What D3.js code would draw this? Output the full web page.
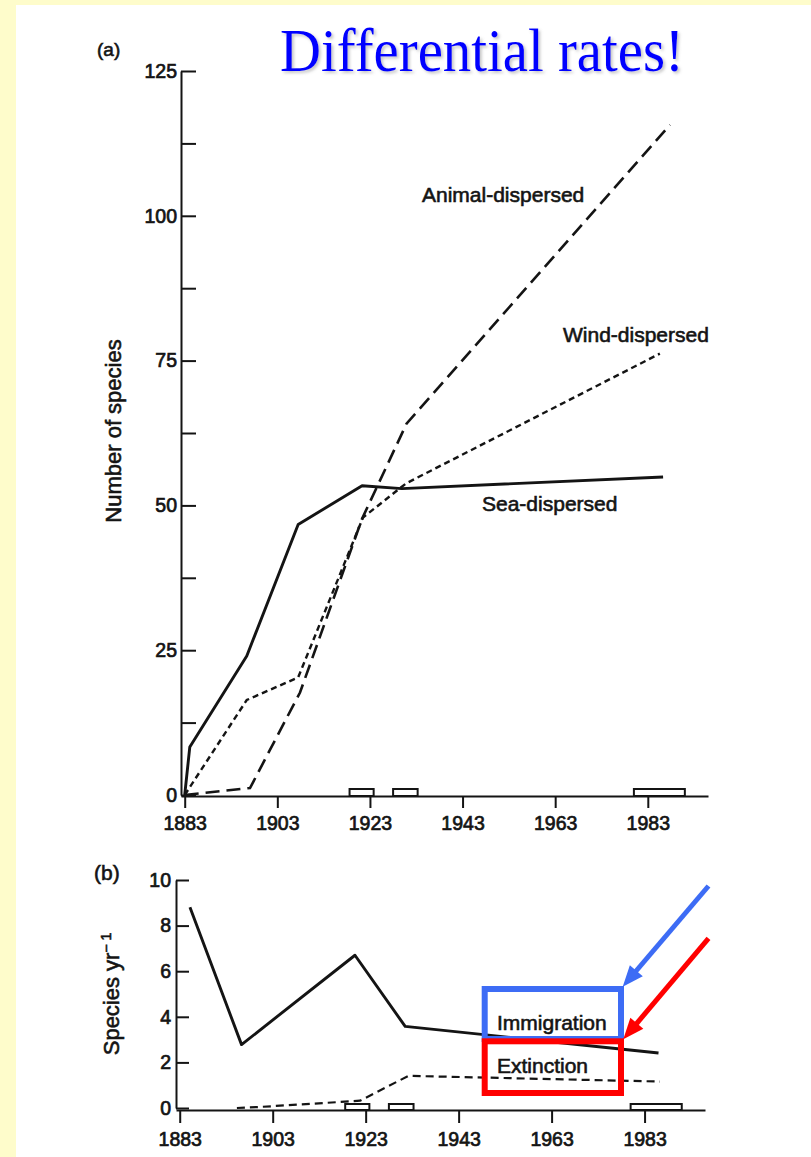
<!DOCTYPE html>
<html><head><meta charset="utf-8">
<script src="https://cdn.jsdelivr.net/npm/d3@7"></script>
<style>body{margin:0;background:#fefccb}svg{display:block}</style>
</head><body><svg id="c" width="811" height="1157"></svg>
<script>
// ---- data ----
const xTicks = [1883, 1903, 1923, 1943, 1963, 1983];
const topYTicks = [0, 25, 50, 75, 100, 125];
const topYMinor = [12.5, 37.5, 62.5, 87.5, 112.5];
const bottomYTicks = [0, 2, 4, 6, 8, 10];

const seaYears = [1883, 1884.1, 1896.4, 1907.5, 1921.3, 1929.9, 1986.3];
const seaValues = [0, 8.3, 24.0, 46.7, 53.4, 52.9, 54.9];
const windYears = [1883, 1896.4, 1907.5, 1921.5, 1930.8, 1985.6];
const windValues = [0, 16.4, 20.3, 47.9, 53.8, 76.2];
const animalYears = [1883, 1897.1, 1907.9, 1921.3, 1930.9, 1987.8];
const animalValues = [0, 1.2, 17.7, 47.7, 64.1, 115.7];

const immYears = [1885.2, 1896.3, 1920.7, 1931.5, 1986.0];
const immValues = [8.8, 2.78, 6.7, 3.58, 2.41];
const extYears = [1895.3, 1900.6, 1921.8, 1932.2, 1986.3];
const extValues = [0, 0.05, 0.32, 1.41, 1.16];

const surveyStart = [1918.6, 1928.0, 1980.0];
const surveyEnd = [1923.8, 1933.3, 1991.0];

// ---- drawing ----
const FONT = "'Liberation Sans', Arial, Helvetica, sans-serif";
const INK = "#141414";
const svg = d3.select("#c");
svg.append("rect").attr("width", 811).attr("height", 1157).attr("fill", "#fefccb");
svg.append("rect").attr("x", 16).attr("y", 5).attr("width", 795).attr("height", 1152).attr("fill", "#ffffff");

const defs = svg.append("defs");
const f = defs.append("filter").attr("id", "sh").attr("x", "-5%").attr("y", "-20%").attr("width", "115%").attr("height", "150%");
f.append("feDropShadow").attr("dx", 2).attr("dy", 2).attr("stdDeviation", 1.5)
  .attr("flood-color", "#808080").attr("flood-opacity", 0.45);

// title
svg.append("text").attr("x", 280).attr("y", 71)
  .attr("textLength", 404).attr("lengthAdjust", "spacingAndGlyphs")
  .style("font-family", "'Liberation Serif','Times New Roman',serif").style("font-size", "62px")
  .attr("fill", "#0000ff").attr("filter", "url(#sh)").text("Differential rates!");

function styleAxis(g, fs) {
  g.select(".domain").attr("stroke", INK).attr("stroke-width", 2);
  g.selectAll(".tick line").attr("stroke", INK).attr("stroke-width", 2);
  g.selectAll(".tick text").attr("fill", INK).attr("stroke", INK).attr("stroke-width", 0.7)
    .style("font-family", FONT).style("font-size", fs + "px");
}
function label(x, y, t, fs, extra) {
  const el = svg.append("text").attr("x", x).attr("y", y).attr("fill", INK)
    .attr("stroke", INK).attr("stroke-width", 0.6)
    .style("font-family", FONT).style("font-size", fs + "px").text(t);
  if (extra) extra(el);
  return el;
}

// ---------- (a) top chart ----------
const xTop = d3.scaleLinear().domain([1882.2, 1996]).range([181, 708]);
const yTop = d3.scaleLinear().domain([0, 125]).range([795, 71]);
const topAxisY = 796;

svg.append("g").attr("transform", `translate(181,0)`)
  .call(d3.axisLeft(yTop).tickValues(topYTicks.concat(topYMinor)).tickSize(-15).tickSizeOuter(0).tickPadding(4)
    .tickFormat(d => topYTicks.includes(d) ? d : ""))
  .call(g => styleAxis(g, 19.5));
svg.append("g").attr("transform", `translate(0,${topAxisY})`)
  .call(d3.axisBottom(xTop).tickValues(xTicks).tickFormat(d3.format("d")).tickSize(12).tickSizeOuter(0).tickPadding(8))
  .call(g => styleAxis(g, 19.5));

svg.append("g").selectAll("rect").data(d3.zip(surveyStart, surveyEnd)).join("rect")
  .attr("x", d => xTop(d[0])).attr("width", d => xTop(d[1]) - xTop(d[0]))
  .attr("y", topAxisY - 7).attr("height", 7)
  .attr("fill", "#fff").attr("stroke", INK).attr("stroke-width", 2);

const lineTop = d3.line().x(d => xTop(d[0])).y(d => yTop(d[1]));
svg.append("path").attr("d", lineTop(d3.zip(seaYears, seaValues)))
  .attr("fill", "none").attr("stroke", INK).attr("stroke-width", 2.9).attr("stroke-linejoin", "round");
svg.append("path").attr("d", lineTop(d3.zip(windYears, windValues)))
  .attr("fill", "none").attr("stroke", INK).attr("stroke-width", 2.4).attr("stroke-dasharray", "6,4");
svg.append("path").attr("d", lineTop(d3.zip(animalYears, animalValues)))
  .attr("fill", "none").attr("stroke", INK).attr("stroke-width", 2.6).attr("stroke-dasharray", "14,7");

label(422, 202, "Animal-dispersed", 21);
label(563, 342, "Wind-dispersed", 21);
label(482, 510.5, "Sea-dispersed", 21);
label(97, 56, "(a)", 19);
label(0, 0, "Number of species", 22, el => el.attr("text-anchor", "middle")
  .attr("transform", "translate(121,431) rotate(-90)"));

// ---------- (b) bottom chart ----------
const xBot = d3.scaleLinear().domain([1882.2, 1996]).range([176, 705]);
const yBot = d3.scaleLinear().domain([0, 10]).range([1108, 880]);
const botAxisY = 1110;

svg.append("g").attr("transform", `translate(176,0)`)
  .call(d3.axisLeft(yBot).tickValues(bottomYTicks).tickSize(-13).tickSizeOuter(0).tickPadding(5))
  .call(g => styleAxis(g, 19.5));
svg.append("g").attr("transform", `translate(0,${botAxisY})`)
  .call(d3.axisBottom(xBot).tickValues(xTicks).tickFormat(d3.format("d")).tickSize(13).tickSizeOuter(0).tickPadding(9))
  .call(g => styleAxis(g, 19.5));

svg.append("g").selectAll("rect").data(d3.zip(surveyStart, surveyEnd)).join("rect")
  .attr("x", d => xBot(d[0])).attr("width", d => xBot(d[1]) - xBot(d[0]))
  .attr("y", botAxisY - 6).attr("height", 6)
  .attr("fill", "#fff").attr("stroke", INK).attr("stroke-width", 2);

const lineBot = d3.line().x(d => xBot(d[0])).y(d => yBot(d[1]));
svg.append("path").attr("d", lineBot(d3.zip(immYears, immValues)))
  .attr("fill", "none").attr("stroke", INK).attr("stroke-width", 2.9).attr("stroke-linejoin", "round");
svg.append("path").attr("d", lineBot(d3.zip(extYears, extValues)))
  .attr("fill", "none").attr("stroke", INK).attr("stroke-width", 2.2).attr("stroke-dasharray", "8,5");

label(94, 880, "(b)", 21);
const sp = label(0, 0, "Species yr", 22, el => el.attr("text-anchor", "middle")
  .attr("transform", "translate(119,994) rotate(-90)"));
sp.append("tspan").attr("dy", -8).style("font-size", "14px").text("\u2212 1");

label(497, 1030, "Immigration", 21);
label(497, 1072.5, "Extinction", 21);

// annotation boxes and arrows
svg.append("rect").attr("x", 484.7).attr("y", 989).attr("width", 136.3).attr("height", 50)
  .attr("fill", "none").attr("stroke", "#3d6cf5").attr("stroke-width", 6);
svg.append("rect").attr("x", 484.7).attr("y", 1041.3).attr("width", 136.3).attr("height", 51.7)
  .attr("fill", "none").attr("stroke", "#ff0000").attr("stroke-width", 6);

function arrow(x1, y1, x2, y2, col) {
  const dx = x2 - x1, dy = y2 - y1, L = Math.hypot(dx, dy);
  const ux = dx / L, uy = dy / L, nx = -uy, ny = ux;
  const hl = 21, hw = 8.5;
  svg.append("line").attr("x1", x1).attr("y1", y1)
    .attr("x2", x2 - ux * (hl - 3)).attr("y2", y2 - uy * (hl - 3))
    .attr("stroke", col).attr("stroke-width", 5);
  const bx = x2 - ux * hl, by = y2 - uy * hl;
  svg.append("path").attr("d", `M${x2},${y2}L${bx + nx * hw},${by + ny * hw}L${bx - nx * hw},${by - ny * hw}Z`)
    .attr("fill", col);
}
arrow(708.5, 886, 622.7, 986.7, "#3d6cf5");
arrow(708.5, 938.3, 623.3, 1039.3, "#ff0000");
</script></body></html>
